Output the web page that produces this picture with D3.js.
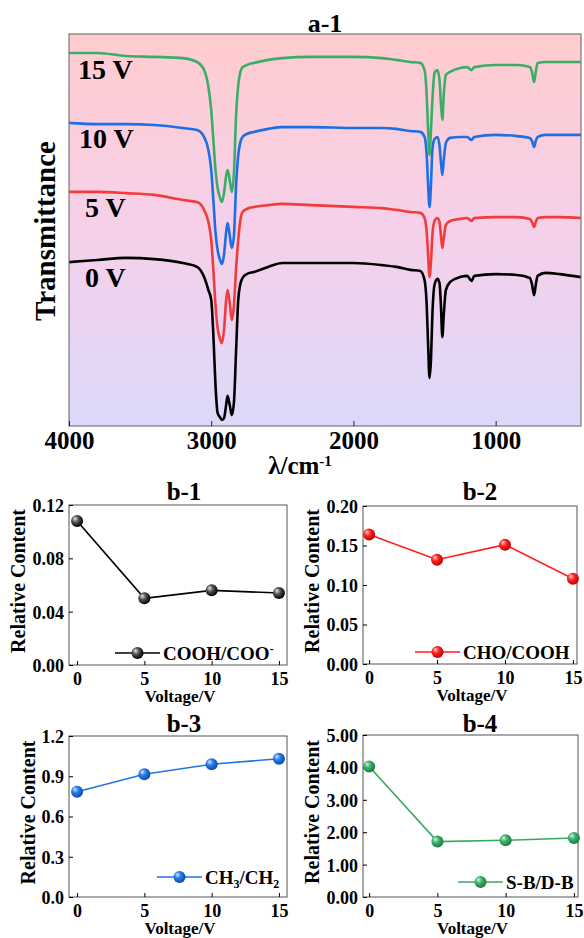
<!DOCTYPE html>
<html>
<head>
<meta charset="utf-8">
<script src="https://cdn.jsdelivr.net/npm/d3@7"></script>
<style>
  body { margin: 0; background: #fff; }
  svg text { font-family: "Liberation Serif", "Times New Roman", serif; font-weight: bold; fill: #000; }
</style>
</head>
<body>
<svg id="chart" width="584" height="938"></svg>
<script>
// ---- a-1 : FTIR spectra ----
var wavenumbers = [4000,3800,3600,3400,3200,3100,3050,3020,3000,2985,2970,2955,2940,2925,2910,2895,2885,2870,2855,2840,
  2825,2810,2795,2780,2750,2700,2600,2500,2300,2000,1800,1700,1600,1530,1500,1485,1475,1465,1455,1445,
  1430,1410,1395,1385,1375,1365,1350,1320,1250,1200,1170,1150,1000,850,760,745,730,718,705,650,550,400];

var spec0 = [54.3,55,55.7,55.3,54,52.7,49.3,45,41.7,30, 13.3,4,2.7,1.7,2.3,6.7,9.7,6.7,3.3,7.7,
  25,41.7,47,49,50.3,51,52.7,54,54,54, 53.3,52.7,51.7,51.3,48.3,40,26.7,15.7,21.7,36.7,
  46.7,48.7,47.3,40,29.3,36.7,45,47.7,49.3,49.7, 48,49.7,50.3,50,49,47,43.3,46.7,49.7,50.7, 50.3,49.3];
var spec5 = [77.7,77.7,77.3,76.7,75,74.3,71.7,67.7,61.7,51.7, 40,32.3,29,27.3,31.7,41.7,45,40.7,35,40,
  52.3,61.7,68.3,71,72,72.7,73.3,73.7,73.3,72.7, 72.3,71.7,71,70.7,69,64.3,56.7,49.3,54.3,63.3,
  68,69,67.7,63.3,59,62.3,66.7,68,68.7,69, 68,69,69.3,69.3,68.7,67.7,66,67.7,69,69.3, 69.3,69];
var spec10 = [100.7,100.3,100.3,100,99,98.3,96,91.7,85,75, 64.3,58.3,55.3,53.7,56.7,64.3,67.3,63.3,59,63.3,
  80,90,94.3,96,97,97.7,98.7,99.3,99.3,99, 99,98.7,98,97.7,96,90,80,72.7,80,91.7,
  95.3,96,93.3,87.7,83.3,88.3,94,95.7,96,96, 95,96,96.7,96.3,95.7,94.7,92.7,94.7,96,96.7, 96.7,96.7];
var spec15 = [124,124,123,122.7,122.3,121,118.3,112.7,105,95, 85,79,76,74.3,77.3,83,85,81.7,77.7,84.3,
  103.3,113.3,117.7,119.3,120,120.7,121.7,122.3,122.7,122.7, 122.3,121.7,121,120.7,118.3,110,98.3,90,98.3,108.3,
  117.3,118.3,115,107.3,101.7,110,116.7,117.7,119,119.3, 118.3,119.3,120,120,119.3,117.7,114.3,117.7,120.7,121, 121,121];

var specLabels = ["0 V", "5 V", "10 V", "15 V"];
var specTicks = [4000, 3000, 2000, 1000];

// ---- b-1 .. b-4 : relative content vs voltage ----
var voltages = [0, 5, 10, 15];
var coohCoo = [0.108, 0.050, 0.056, 0.054];
var choCooh = [0.164, 0.132, 0.151, 0.108];
var ch3Ch2 = [0.785, 0.915, 0.99, 1.03];
var sbDb = [4.03, 1.71, 1.75, 1.82];

var svg = d3.select("#chart");
var defs = svg.append("defs");

// ===== top panel =====
var box = {left: 69, right: 581, top: 34, bottom: 426};
var x = d3.scaleLinear().domain([4000, 400]).range([box.left, box.right]);
var y = d3.scaleLinear().domain([0, 130]).range([425, 35]);

var bg = defs.append("linearGradient").attr("id", "bg").attr("x1", 0).attr("y1", 0).attr("x2", 0).attr("y2", 1);
bg.append("stop").attr("offset", "0%").attr("stop-color", "#ffccce");
bg.append("stop").attr("offset", "50%").attr("stop-color", "#f6d0ea");
bg.append("stop").attr("offset", "100%").attr("stop-color", "#dcd9fa");

svg.append("rect")
    .attr("x", box.left).attr("y", box.top)
    .attr("width", box.right - box.left).attr("height", box.bottom - box.top)
    .attr("fill", "url(#bg)");

var specs = [
  {values: spec0, color: "#000000", label: specLabels[0], lx: 85, ly: 287},
  {values: spec5, color: "#f23b3b", label: specLabels[1], lx: 85, ly: 217},
  {values: spec10, color: "#1e6fe3", label: specLabels[2], lx: 79, ly: 148},
  {values: spec15, color: "#3aae69", label: specLabels[3], lx: 78, ly: 79}
];

var line = d3.line()
    .x(function(d, i) { return x(wavenumbers[i]); })
    .y(function(d) { return y(d); })
    .curve(d3.curveMonotoneX);

specs.forEach(function(s) {
  svg.append("path")
      .attr("d", line(s.values))
      .attr("fill", "none")
      .attr("stroke", s.color)
      .attr("stroke-width", 2.6)
      .attr("stroke-linejoin", "round");
});

specs.forEach(function(s) {
  svg.append("text")
      .attr("x", s.lx).attr("y", s.ly)
      .style("font-size", "28px")
      .text(s.label);
});

svg.append("rect")
    .attr("x", box.left).attr("y", box.top)
    .attr("width", box.right - box.left).attr("height", box.bottom - box.top)
    .attr("fill", "none").attr("stroke", "#777").attr("stroke-width", 1.2);

var xAxisTop = svg.append("g")
    .attr("transform", "translate(0," + box.bottom + ")")
    .call(d3.axisBottom(x).tickValues(specTicks).tickFormat(d3.format("d")).tickSize(-5).tickPadding(7));
xAxisTop.select(".domain").remove();
xAxisTop.selectAll("line").attr("stroke", "#222");
xAxisTop.selectAll("text")
    .style("font-size", "25px")
    .style("font-family", "Liberation Serif, Times New Roman, serif")
    .attr("y", 23)
    .attr("dy", null);

svg.append("text")
    .attr("x", 325).attr("y", 32)
    .attr("text-anchor", "middle")
    .style("font-size", "26px")
    .text("a-1");

var xl = svg.append("text")
    .attr("x", 300).attr("y", 474)
    .attr("text-anchor", "middle")
    .style("font-size", "25px");
xl.append("tspan").text("λ/cm");
xl.append("tspan").attr("dy", -8).style("font-size", "15px").text("-1");

svg.append("text")
    .attr("transform", "translate(45,231) rotate(-90)")
    .attr("text-anchor", "middle")
    .attr("dy", "0.35em")
    .style("font-size", "29px")
    .text("Transmittance");

// ===== bottom panels =====
var panels = [
  {id: "b1", title: "b-1", values: coohCoo, color: "#000000", grad: ["#e6e6e6", "#555555", "#000000"],
   x0: 69, x1: 287, y0: 505, y1: 665, xdom: [-0.6, 15.6], ymax: 0.12, ticks: [0, 0.04, 0.08, 0.12], fmt: ".2f",
   tx: 184, tyl: 500, ylx: 18, leg: [115, 653], legend: [{t: "COOH/COO"}, {t: "-", sup: true}]},
  {id: "b2", title: "b-2", values: choCooh, color: "#ff1c1c", grad: ["#ffd6d6", "#ff2424", "#c40000"],
   x0: 363, x1: 577, y0: 506, y1: 664, xdom: [-0.45, 15.3], ymax: 0.20, ticks: [0, 0.05, 0.10, 0.15, 0.20], fmt: ".2f",
   tx: 480, tyl: 500, ylx: 312, leg: [415, 652], legend: [{t: "CHO/COOH"}]},
  {id: "b3", title: "b-3", values: ch3Ch2, color: "#2475e2", grad: ["#d6e6ff", "#2a7be8", "#0a4db0"],
   x0: 69, x1: 287, y0: 736, y1: 897, xdom: [-0.6, 15.6], ymax: 1.2, ticks: [0, 0.3, 0.6, 0.9, 1.2], fmt: ".1f",
   tx: 184, tyl: 732, ylx: 28, leg: [157, 877], legend: [{t: "CH"}, {t: "3", sub: true}, {t: "/CH"}, {t: "2", sub: true}]},
  {id: "b4", title: "b-4", values: sbDb, color: "#3aa862", grad: ["#d6f2e0", "#3cb36a", "#1e7c40"],
   x0: 363, x1: 578, y0: 735, y1: 897, xdom: [-0.45, 15.3], ymax: 5, ticks: [0, 1, 2, 3, 4, 5], fmt: ".2f",
   tx: 480, tyl: 732, ylx: 312, leg: [458, 882], legend: [{t: "S-B/D-B"}]}
];

panels.forEach(function(p) {
  var g = defs.append("radialGradient").attr("id", "ball-" + p.id)
      .attr("cx", "40%").attr("cy", "40%").attr("r", "60%").attr("fx", "32%").attr("fy", "30%");
  g.append("stop").attr("offset", "0%").attr("stop-color", p.grad[0]);
  g.append("stop").attr("offset", "45%").attr("stop-color", p.grad[1]);
  g.append("stop").attr("offset", "100%").attr("stop-color", p.grad[2]);

  var px = d3.scaleLinear().domain(p.xdom).range([p.x0, p.x1]);
  var py = d3.scaleLinear().domain([0, p.ymax]).range([p.y1, p.y0]);

  svg.append("rect")
      .attr("x", p.x0).attr("y", p.y0)
      .attr("width", p.x1 - p.x0).attr("height", p.y1 - p.y0)
      .attr("fill", "none").attr("stroke", "#555").attr("stroke-width", 1);

  var ax = svg.append("g")
      .attr("transform", "translate(0," + p.y1 + ")")
      .call(d3.axisBottom(px).tickValues(voltages).tickSize(-4).tickPadding(5));
  ax.select(".domain").remove();
  ax.selectAll("text").style("font-size", "18px").style("font-family", "Liberation Serif, Times New Roman, serif").attr("dy", "0.85em");

  var ay = svg.append("g")
      .attr("transform", "translate(" + p.x0 + ",0)")
      .call(d3.axisLeft(py).tickValues(p.ticks).tickFormat(d3.format(p.fmt)).tickSize(-4).tickPadding(5));
  ay.select(".domain").remove();
  ay.selectAll("text").style("font-size", "18px").style("font-family", "Liberation Serif, Times New Roman, serif").attr("dy", "0.36em");

  svg.append("text")
      .attr("x", p.tx).attr("y", p.tyl)
      .attr("text-anchor", "middle")
      .style("font-size", "25px")
      .text(p.title);

  svg.append("text")
      .attr("x", (p.x0 + p.x1) / 2 + 2).attr("y", p.y1 + 37)
      .attr("text-anchor", "middle")
      .style("font-size", "17px")
      .text("Voltage/V");

  svg.append("text")
      .attr("transform", "translate(" + p.ylx + "," + ((p.y0 + p.y1) / 2 - 4) + ") rotate(-90)")
      .attr("text-anchor", "middle")
      .attr("dy", "0.35em")
      .style("font-size", "20px")
      .text("Relative Content");

  var pl = d3.line()
      .x(function(d, i) { return px(voltages[i]); })
      .y(function(d) { return py(d); });

  svg.append("path")
      .attr("d", pl(p.values))
      .attr("fill", "none")
      .attr("stroke", p.color)
      .attr("stroke-width", 1.6);

  svg.selectAll(".pt-" + p.id)
      .data(p.values)
      .enter().append("circle")
      .attr("cx", function(d, i) { return px(voltages[i]); })
      .attr("cy", function(d) { return py(d); })
      .attr("r", 6)
      .attr("fill", "url(#ball-" + p.id + ")");

  // legend
  svg.append("line")
      .attr("x1", p.leg[0]).attr("x2", p.leg[0] + 45)
      .attr("y1", p.leg[1]).attr("y2", p.leg[1])
      .attr("stroke", p.color).attr("stroke-width", 1.6);
  svg.append("circle")
      .attr("cx", p.leg[0] + 22.5).attr("cy", p.leg[1]).attr("r", 6)
      .attr("fill", "url(#ball-" + p.id + ")");
  var lt = svg.append("text")
      .attr("x", p.leg[0] + 48).attr("y", p.leg[1] + 6.5)
      .style("font-size", "19px");
  p.legend.forEach(function(part) {
    var ts = lt.append("tspan").text(part.t);
    if (part.sup) ts.style("font-size", "12px").attr("dy", -7);
    if (part.sub) ts.style("font-size", "12px").attr("dy", 4);
    if (!part.sup && !part.sub && lt.selectAll("tspan").size() > 1) ts.attr("dy", -4);
  });
});
</script>
</body>
</html>
